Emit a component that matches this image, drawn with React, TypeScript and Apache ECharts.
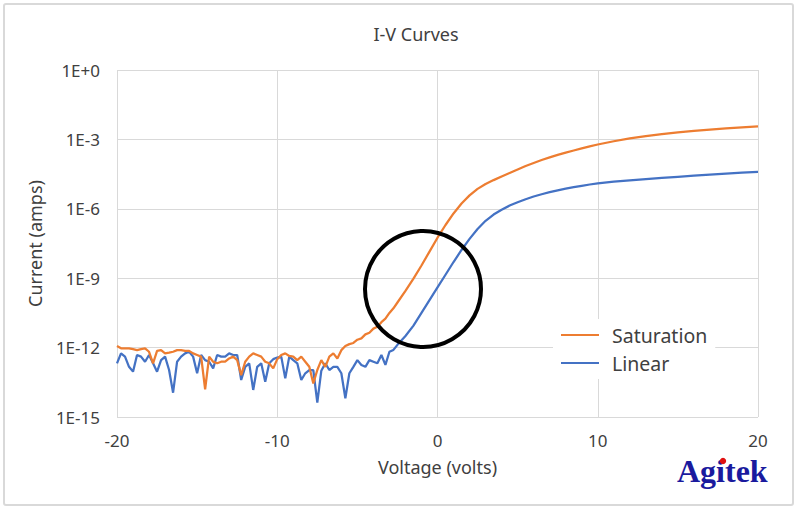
import React, { useEffect, useRef } from "react";
import * as echarts from "echarts";

// Voltage (volts)
const voltage: number[] = [
  -20, -19.75, -19.5, -19.25, -19, -18.75, -18.5, -18.25, -18, -17.75,
  -17.5, -17.25, -17, -16.75, -16.5, -16.25, -16, -15.75, -15.5, -15.25,
  -15, -14.75, -14.5, -14.25, -14, -13.75, -13.5, -13.25, -13, -12.75,
  -12.5, -12.25, -12, -11.75, -11.5, -11.25, -11, -10.75, -10.5, -10.25,
  -10, -9.75, -9.5, -9.25, -9, -8.75, -8.5, -8.25, -8, -7.75,
  -7.5, -7.25, -7, -6.75, -6.5, -6.25, -6, -5.75, -5.5, -5.25,
  -5, -4.75, -4.5, -4.25, -4, -3.75, -3.5, -3.25, -3, -2.75,
  -2.5,
  -2, -1.5, -1, -0.5, 0, 0.5, 1, 1.5, 2, 2.5, 3, 3.5, 4, 4.5, 5, 5.5, 6, 6.5, 7, 7.5, 8, 8.5, 9, 9.5, 10,
  11, 12, 13, 14, 15, 16, 17, 18, 19, 20,
];

// log10 of current (amps), Saturation
const saturationLog10: number[] = [
  -11.93, -12.03, -12.03, -12.03, -12.07, -12.11, -12.07, -12.03, -12.18, -12.68,
  -12.14, -12.11, -12.25, -12.22, -12.18, -12.11, -12.11, -12.14, -12.14, -12.25,
  -12.32, -12.39, -13.8, -12.39, -12.61, -12.68, -12.61, -12.61, -12.47, -12.39,
  -12.54, -13.19, -12.61, -12.39, -12.25, -12.32, -12.39, -12.61, -12.68, -12.9,
  -12.5, -12.32, -12.25, -12.36, -12.39, -12.54, -12.39, -12.61, -12.83, -13.55,
  -12.97, -12.54, -12.83, -12.39, -12.25, -12.47, -12.11, -11.93, -11.85, -11.8,
  -11.66, -11.6, -11.43, -11.36, -11.18, -11.1, -10.9, -10.75, -10.5, -10.3,
  -10.05,
  -9.55, -9.02, -8.45, -7.85, -7.25, -6.7, -6.2, -5.77, -5.42, -5.14, -4.93, -4.76, -4.6, -4.45, -4.3, -4.15, -4.02, -3.89, -3.78, -3.67, -3.57, -3.48, -3.39, -3.3, -3.22,
  -3.08, -2.96, -2.86, -2.775, -2.7, -2.635, -2.577, -2.525, -2.478, -2.44,
];

// log10 of current (amps), Linear
const linearLog10: number[] = [
  -12.68, -12.25, -12.39, -12.83, -13.04, -12.32, -12.39, -12.61, -12.32, -12.68,
  -13.04, -12.54, -12.39, -12.97, -13.95, -12.61, -12.39, -12.25, -12.18, -12.39,
  -13.11, -12.32, -12.54, -12.61, -12.9, -12.32, -12.39, -12.39, -12.25, -12.32,
  -12.32, -13.4, -12.83, -12.68, -13.83, -12.83, -12.68, -13.48, -12.68, -12.5,
  -12.43, -12.39, -13.33, -12.39, -12.54, -12.68, -13.4, -13.11, -12.97, -12.97,
  -14.38, -13.0, -12.68, -12.97, -12.83, -12.83, -13.11, -14.19, -13.11, -12.83,
  -12.54, -12.75, -12.83, -12.54, -12.61, -12.68, -12.32, -12.75, -12.18, -12.1,
  -11.88,
  -11.5, -11.05, -10.5, -9.95, -9.4, -8.85, -8.3, -7.78, -7.3, -6.87, -6.52, -6.25, -6.04, -5.86, -5.715, -5.585, -5.47, -5.37, -5.28, -5.2, -5.13, -5.065, -5.005, -4.95, -4.9,
  -4.83, -4.77, -4.715, -4.665, -4.615, -4.57, -4.525, -4.48, -4.44, -4.4,
];

const seriesNames = ["Saturation", "Linear"];
const seriesColors = ["#ED7D31", "#4472C4"];

const FONT = "'Noto Sans', sans-serif";
const TXT = "#404040";

export default function App() {
  const ref = useRef<HTMLDivElement>(null);
  useEffect(() => {
    if (!ref.current) return;
    const chart = echarts.init(ref.current, null, { renderer: "svg" });
    const toPairs = (arr: number[]) => voltage.map((v, i) => [v, arr[i]]);
    chart.setOption({
      animation: false,
      backgroundColor: "#ffffff",
      title: {
        text: "I-V Curves",
        left: 411,
        top: 20,
        textAlign: "center",
        textStyle: { fontFamily: FONT, fontSize: 18, fontWeight: "normal", color: TXT },
      },
      grid: { left: 117, right: 42, top: 70, bottom: 93, containLabel: false },
      legend: {
        data: seriesNames,
        orient: "vertical",
        left: 553,
        top: 319,
        backgroundColor: "#ffffff",
        padding: [5, 8, 5, 8],
        icon: "rect",
        itemWidth: 38,
        itemHeight: 2,
        itemGap: 6,
        textStyle: {
          fontFamily: FONT,
          fontSize: 19.5,
          color: TXT,
          lineHeight: 22,
          padding: [0, 0, 0, 8],
        },
      },
      xAxis: {
        type: "value",
        min: -20,
        max: 20,
        interval: 10,
        name: "Voltage (volts)",
        nameLocation: "middle",
        nameGap: 41,
        nameTextStyle: { fontFamily: FONT, fontSize: 18, color: TXT },
        axisLine: { show: false },
        axisTick: { show: false },
        axisLabel: { fontFamily: FONT, fontSize: 17, color: TXT, margin: 15 },
        splitLine: { show: true, lineStyle: { color: "#d9d9d9", width: 1 } },
      },
      yAxis: {
        type: "value",
        min: -15,
        max: 0,
        interval: 3,
        name: "Current (amps)",
        nameLocation: "middle",
        nameGap: 73,
        nameTextStyle: { fontFamily: FONT, fontSize: 18, color: TXT },
        axisLine: { show: false },
        axisTick: { show: false },
        axisLabel: {
          fontFamily: FONT,
          fontSize: 17,
          color: TXT,
          margin: 17,
          formatter: (v: number) => (v === 0 ? "1E+0" : "1E" + v),
        },
        splitLine: { show: true, lineStyle: { color: "#d9d9d9", width: 1 } },
      },
      series: [
        {
          name: seriesNames[0],
          type: "line",
          data: toPairs(saturationLog10),
          showSymbol: false,
          symbol: "none",
          color: seriesColors[0],
          lineStyle: { width: 2.25, color: seriesColors[0] },
          z: 3,
        },
        {
          name: seriesNames[1],
          type: "line",
          data: toPairs(linearLog10),
          showSymbol: false,
          symbol: "none",
          color: seriesColors[1],
          lineStyle: { width: 2.25, color: seriesColors[1] },
          z: 2,
        },
      ],
      graphic: [
        {
          type: "rect",
          z: -1,
          shape: { x: 4, y: 4, width: 789, height: 501, r: 2 },
          style: { fill: "none", stroke: "#d9d9d9", lineWidth: 2 },
          silent: true,
        },
        {
          type: "circle",
          z: 100,
          shape: { cx: 423, cy: 289, r: 58 },
          style: { fill: "none", stroke: "#000000", lineWidth: 4 },
          silent: true,
        },
        {
          type: "text",
          z: 100,
          x: 677,
          y: 471,
          style: {
            text: "Agitek",
            fontFamily: "'Liberation Serif', 'DejaVu Serif', serif",
            fontWeight: "bold",
            fontSize: 32,
            fill: "#1a1a9e",
            align: "left",
            verticalAlign: "middle",
          },
          silent: true,
        },
        {
          type: "circle",
          z: 101,
          shape: { cx: 723, cy: 461, r: 3.2 },
          style: { fill: "#e01010" },
          silent: true,
        },
      ],
    });
    return () => chart.dispose();
  }, []);
  return (
    <div
      ref={ref}
      style={{ position: "fixed", left: 0, top: 0, width: 800, height: 510, background: "#fff" }}
    />
  );
}
